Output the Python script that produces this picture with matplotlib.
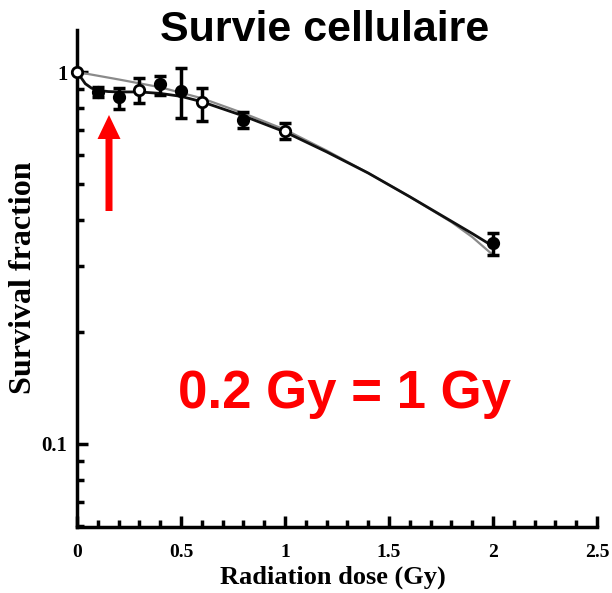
import matplotlib
matplotlib.use("Agg")
import matplotlib.pyplot as plt
from matplotlib.patches import FancyArrow
from matplotlib.ticker import FixedLocator, NullFormatter, MultipleLocator

# Data
dose = [0.0, 0.1, 0.2, 0.3, 0.4, 0.5, 0.6, 0.8, 1.0, 2.0]
survival = [1.0, 0.884, 0.857, 0.894, 0.93, 0.889, 0.831, 0.743, 0.694, 0.347]
err_low = [0.0, 0.027, 0.062, 0.069, 0.06, 0.137, 0.093, 0.036, 0.033, 0.025]
err_high = [0.0, 0.027, 0.049, 0.069, 0.045, 0.136, 0.075, 0.038, 0.035, 0.022]
open_marker = [True, False, False, True, False, False, True, False, True, False]

fit_gray_x = [0.0, 0.2, 0.4, 0.6, 0.8, 1.0, 1.2, 1.4, 1.6, 1.8, 1.9, 2.0]
fit_gray_y = [1.0, 0.955, 0.91, 0.85, 0.775, 0.70, 0.615, 0.535, 0.462, 0.395, 0.36, 0.322]

fit_black_x = [0.0, 0.02, 0.04, 0.07, 0.1, 0.15, 0.2, 0.3, 0.4, 0.5, 0.6, 0.8, 1.0, 1.2, 1.4, 1.6, 1.8, 1.9, 2.0]
fit_black_y = [1.0, 0.965, 0.93, 0.905, 0.893, 0.886, 0.884, 0.884, 0.876, 0.86, 0.832, 0.762, 0.69, 0.61, 0.535, 0.462, 0.397, 0.368, 0.34]

title = "Survie cellulaire"
annotation = "0.2 Gy = 1 Gy"
xlabel = "Radiation dose (Gy)"
ylabel = "Survival fraction"
xtick_vals = [0, 0.5, 1, 1.5, 2, 2.5]
xtick_labels = ["0", "0.5", "1", "1.5", "2", "2.5"]
ytick_vals = [0.1, 1]
ytick_labels = ["0.1", "1"]

W, H = 612, 593
fig = plt.figure(figsize=(W / 100, H / 100), dpi=100)
ax = fig.add_axes([77 / W, 1 - 527 / H, (597 - 77) / W, (527 - 30) / H])
ax.set_yscale("log")
ax.set_xlim(0, 2.5)
ax.set_ylim(0.0598, 1.297)

ax.plot(fit_gray_x, fit_gray_y, color="#8a8a8a", lw=1.6, zorder=2)
ax.plot(fit_black_x, fit_black_y, color="#111111", lw=2.0, zorder=3)

for x, y, lo, hi, op in zip(dose, survival, err_low, err_high, open_marker):
    ax.errorbar([x], [y], yerr=[[lo], [hi]], fmt="none", ecolor="black",
                elinewidth=2.5, capsize=4.5, capthick=2.5, zorder=4, clip_on=False)
    ax.plot([x], [y], marker="o", ms=7.5, mec="black", mew=2,
            mfc="white" if op else "black", zorder=5, clip_on=False)

for s in ["top", "right"]:
    ax.spines[s].set_visible(False)
for s in ["left", "bottom"]:
    ax.spines[s].set_linewidth(2.5)

serif = ["Liberation Serif", "DejaVu Serif"]
ax.xaxis.set_major_locator(FixedLocator(xtick_vals))
ax.xaxis.set_minor_locator(MultipleLocator(0.1))
ax.set_xticklabels(xtick_labels, fontfamily=serif, fontweight="bold", fontsize=14)
ax.yaxis.set_major_locator(FixedLocator(ytick_vals))
ax.set_yticklabels(ytick_labels, fontfamily=serif, fontweight="bold", fontsize=15)
ax.yaxis.set_minor_locator(FixedLocator([0.06, 0.07, 0.08, 0.09, 0.2, 0.3, 0.4, 0.5, 0.6, 0.7, 0.8, 0.9]))
ax.yaxis.set_minor_formatter(NullFormatter())
ax.tick_params(which="major", direction="in", length=8, width=2.5)
ax.tick_params(which="minor", direction="in", length=5, width=2.5)
ax.tick_params(axis="x", which="major", pad=12)
ax.tick_params(axis="y", which="major", pad=7)

ax.set_xlabel(xlabel, fontfamily=serif, fontweight="bold", fontsize=19)
ax.xaxis.set_label_coords((333 - 77) / 520, -(566 - 527) / 497)
ax.set_ylabel(ylabel, fontfamily=serif, fontweight="bold", fontsize=23)
ax.yaxis.set_label_coords((38 - 77) / 520, (527 - 278) / 497)

fig.text(325 / W, 1 - 30 / H, title, ha="center", va="center",
         fontfamily="Liberation Sans", fontweight="bold", fontsize=31)
fig.text(345 / W, 1 - 394 / H, annotation, ha="center", va="center", color="#ff0000",
         fontfamily="Liberation Sans", fontweight="bold", fontsize=38)

fig.add_artist(FancyArrow(109, H - 211, 0, 96, width=7, head_width=23, head_length=24,
                          length_includes_head=True, color="#ff0000", lw=0,
                          transform=None))

fig.savefig("out.png", dpi=100)
